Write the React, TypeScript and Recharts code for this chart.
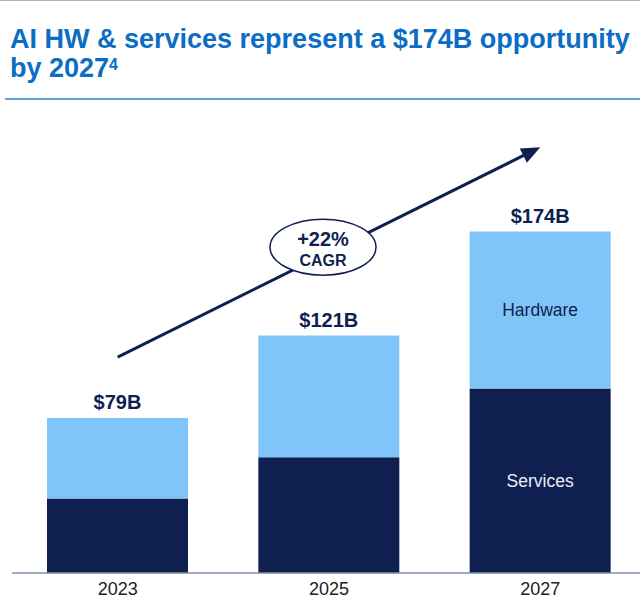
import React from 'react';
import { BarChart, Bar, XAxis, YAxis, LabelList, ReferenceLine, ReferenceDot } from 'recharts';

const years = ['2023', '2025', '2027'];
const services = [38, 59, 94];
const hardware = [41, 62, 80];
const totalLabels = ['$79B', '$121B', '$174B'];
const hardwareLabels = ['', '', 'Hardware'];
const serviceLabels = ['', '', 'Services'];

const NAVY = '#0F1F4F';
const LIGHT = '#80C5FA';
const TITLE_BLUE = '#0B6DC4';

const data = years.map((year, i) => ({
  year,
  services: services[i],
  hardware: hardware[i],
  total: totalLabels[i],
  hwLabel: hardwareLabels[i],
  svLabel: serviceLabels[i],
}));

const Arrow = (p: any) => {
  const { x1, y1, x2, y2 } = p;
  const a = Math.atan2(y2 - y1, x2 - x1);
  const len = 19;
  const half = 8;
  const bx = x2 - len * Math.cos(a);
  const by = y2 - len * Math.sin(a);
  const nx = -Math.sin(a) * half;
  const ny = Math.cos(a) * half;
  return (
    <g>
      <line x1={x1} y1={y1} x2={bx + 2 * Math.cos(a)} y2={by + 2 * Math.sin(a)} stroke={NAVY} strokeWidth={3} />
      <polygon points={`${x2},${y2} ${bx + nx},${by + ny} ${bx - nx},${by - ny}`} fill={NAVY} />
    </g>
  );
};

const CagrBubble = (p: any) => {
  const cx = p.cx - 6;
  const cy = p.cy - 2;
  return (
    <g>
      <ellipse cx={cx} cy={cy} rx={53} ry={28} fill="#fff" stroke={NAVY} strokeWidth={1.5} />
      <text x={cx} y={cy - 1} textAnchor="middle" fontSize={20} fontWeight="bold" fill={NAVY}>+22%</text>
      <text x={cx} y={cy + 19} textAnchor="middle" fontSize={16} fontWeight="bold" fill={NAVY}>CAGR</text>
    </g>
  );
};

export default function App() {
  return (
    <div style={{ position: 'absolute', left: 0, top: 0, width: 640, height: 606, overflow: 'hidden', background: '#fff', fontFamily: '"Liberation Sans", Arial, sans-serif' }}>
      <div style={{ position: 'absolute', left: 0, top: 0, width: 640, height: 1, background: '#A9B4C6' }} />
      <div style={{ position: 'absolute', left: 10, top: 25, width: 640, fontSize: 27, lineHeight: '29.4px', fontWeight: 'bold', color: TITLE_BLUE, whiteSpace: 'nowrap' }}>
        AI HW &amp; services represent a $174B opportunity
        <br />
        by 2027<span style={{ fontSize: 16, position: 'relative', top: -7 }}>4</span>
      </div>
      <div style={{ position: 'absolute', left: 5, top: 98, width: 635, height: 2, background: '#5BA3E0' }} />
      <BarChart width={646} height={606} data={data} margin={{ top: 102, right: 0, bottom: 0, left: 12 }} barSize={141}>
        <XAxis
          dataKey="year"
          height={33}
          tickLine={false}
          axisLine={{ stroke: '#7F8FA9', strokeWidth: 1.5 }}
          tick={{ fontSize: 18, fill: '#222' }}
          tickMargin={3}
        />
        <YAxis hide domain={[0, 240]} />
        <Bar dataKey="services" stackId="a" fill={NAVY} isAnimationActive={false}>
          <LabelList dataKey="svLabel" position="center" fill="#E8EEF8" fontSize={17.5} />
        </Bar>
        <Bar dataKey="hardware" stackId="a" fill={LIGHT} isAnimationActive={false}>
          <LabelList dataKey="hwLabel" position="center" fill={NAVY} fontSize={17.5} />
          <LabelList dataKey="total" position="top" offset={9} fill={NAVY} fontSize={20} fontWeight="bold" />
        </Bar>
        <ReferenceLine segment={[{ x: '2023', y: 110 }, { x: '2027', y: 217 }]} shape={Arrow} />
        <ReferenceDot x="2025" y={165} shape={CagrBubble} />
      </BarChart>
    </div>
  );
}
